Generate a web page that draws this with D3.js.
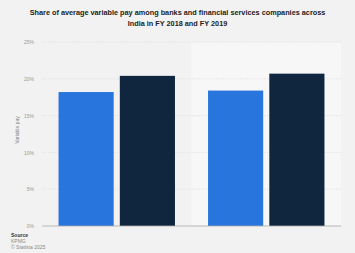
<!DOCTYPE html>
<html>
<head>
<meta charset="utf-8">
<script src="https://cdn.jsdelivr.net/npm/d3@7"></script>
<style>
  body { margin: 0; background: #f2f2f2; }
  svg { display: block; font-family: "Liberation Sans", Arial, sans-serif; }
</style>
</head>
<body>
<svg id="chart" width="355" height="253"></svg>
<script>
// data
const groups = ["Banks", "Financial services"];
const series = ["FY 2018", "FY 2019"];
const values2018 = [18.2, 18.4];
const values2019 = [20.4, 20.7];
const yTicks = [0, 5, 10, 15, 20, 25];
const titleLines = [
  "Share of average variable pay among banks and financial services companies across",
  "India in FY 2018 and FY 2019"
];
const sourceLines = ["Source", "KPMG", "\u00a9 Statista 2025"];

const colors = { "FY 2018": "#2876dd", "FY 2019": "#10263f" };

const svg = d3.select("#chart");
const margin = { top: 42, right: 14, bottom: 27, left: 42 };
const W = +svg.attr("width"), H = +svg.attr("height");
const width = W - margin.left - margin.right;
const height = H - margin.top - margin.bottom;

const rows = groups.map((g, i) => ({
  group: g,
  vals: [
    { key: "FY 2018", v: values2018[i] },
    { key: "FY 2019", v: values2019[i] },
  ],
}));

const x0 = d3.scaleBand().domain(groups).range([0, width]);
const x1 = d3.scaleBand().domain(series).range([0, x0.bandwidth()])
  .paddingInner(0.1).paddingOuter(0.27);
const y = d3.scaleLinear().domain([0, 25]).range([height, 0]);

// title
svg.append("g").selectAll("text").data(titleLines).join("text")
  .attr("x", W / 2)
  .attr("y", (d, i) => 15 + i * 10.5)
  .attr("text-anchor", "middle")
  .style("font-size", "7.3px")
  .style("font-weight", "bold")
  .style("fill", "#222")
  .text(d => d);

const g = svg.append("g").attr("transform", `translate(${margin.left},${margin.top})`);

// lighter band behind second group
g.append("rect")
  .attr("x", x0(groups[1]))
  .attr("y", 0)
  .attr("width", x0.bandwidth())
  .attr("height", height)
  .attr("fill", "#f7f7f7");

// grid
g.append("g").selectAll("line").data(yTicks.filter(t => t > 0)).join("line")
  .attr("x1", 0).attr("x2", width)
  .attr("y1", d => y(d)).attr("y2", d => y(d))
  .attr("stroke", "#dedede")
  .attr("stroke-width", 0.6)
  .attr("stroke-dasharray", "2 1");

// y axis labels
const yAxis = g.append("g")
  .call(d3.axisLeft(y).tickValues(yTicks).tickFormat(d => d + "%").tickSize(0).tickPadding(8));
yAxis.select(".domain").remove();
yAxis.selectAll("text")
  .style("font-size", "5px")
  .style("fill", "#999")
  .style("font-family", "Liberation Sans, Arial, sans-serif");

// bars
g.append("g").selectAll("g").data(rows).join("g")
  .attr("transform", d => `translate(${x0(d.group)},0)`)
  .selectAll("rect").data(d => d.vals).join("rect")
  .attr("x", d => x1(d.key))
  .attr("y", d => y(d.v))
  .attr("width", x1.bandwidth())
  .attr("height", d => y(0) - y(d.v))
  .attr("fill", d => colors[d.key]);

// bottom axis line
g.append("line")
  .attr("x1", 0).attr("x2", width)
  .attr("y1", height).attr("y2", height)
  .attr("stroke", "#aaa")
  .attr("stroke-width", 0.8);

// y axis title
svg.append("text")
  .attr("transform", `translate(19,${margin.top + height / 2 - 4}) rotate(-90)`)
  .attr("text-anchor", "middle")
  .style("font-size", "5px")
  .style("fill", "#888")
  .text("Variable pay");

// source
svg.append("g").selectAll("text").data(sourceLines).join("text")
  .attr("x", 11)
  .attr("y", (d, i) => 237 + i * 6)
  .style("font-size", "5px")
  .style("fill", (d, i) => i === 0 ? "#333" : "#888")
  .style("font-weight", (d, i) => i === 0 ? "bold" : "normal")
  .text(d => d);
</script>
</body>
</html>
